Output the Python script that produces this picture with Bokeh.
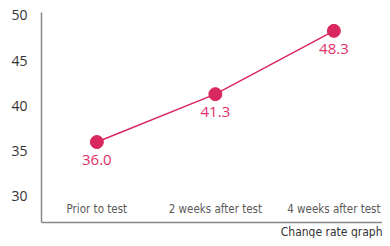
from bokeh.plotting import figure
from bokeh.models import ColumnDataSource, FixedTicker, Range1d, Title
from bokeh.core.properties import value
from bokeh.embed import file_html
from bokeh.resources import INLINE

categories = ["Prior to test", "2 weeks after test", "4 weeks after test"]
scores = [36.0, 41.3, 48.3]
y_ticks = [30, 35, 40, 45, 50]

PINK = "#d9285f"
NARROW = "'DejaVu Sans Condensed', 'Roboto', sans-serif"
xs = list(range(len(categories)))
src = ColumnDataSource(dict(x=xs, y=scores, lab=[f"{v:.1f}" for v in scores]))

y_start, y_end = 27.1, 50.33
p = figure(width=382, height=238, output_backend="svg", toolbar_location=None,
           x_range=Range1d(-0.467, 2.41), y_range=Range1d(y_start, y_end),
           min_border_left=41, min_border_right=0, min_border_top=12, min_border_bottom=0)
p.outline_line_color = None
p.grid.visible = False

p.line("x", "y", source=src, line_color=PINK, line_width=1.5)
p.scatter("x", "y", source=src, size=13, fill_color=PINK, line_color=PINK)
p.text("x", "y", text="lab", source=src, text_align="center", text_baseline="middle",
       y_offset=18, text_color="#e0306a", text_font_size="15px", text_font=value("Open Sans"))

# category labels sit just above the x axis, at the bottom of the y range
cat_src = ColumnDataSource(dict(x=xs, y=[y_start] * len(xs), cat=categories))
p.text("x", "y", text="cat", source=cat_src, text_align="center", text_baseline="bottom",
       y_offset=-7, text_color="#5a5a5a", text_font_size="11.5px",
       text_font=value(NARROW))

p.yaxis.ticker = FixedTicker(ticks=y_ticks)
p.yaxis.major_tick_line_color = None
p.yaxis.minor_tick_line_color = None
p.yaxis.axis_line_color = "#888888"
p.yaxis.axis_line_width = 1.5
p.yaxis.major_label_standoff = 8
p.yaxis.major_label_text_font = "Open Sans"
p.yaxis.major_label_text_font_size = "14px"
p.yaxis.major_label_text_color = "#333333"

p.xaxis.ticker = FixedTicker(ticks=[])
p.xaxis.major_tick_line_color = None
p.xaxis.minor_tick_line_color = None
p.xaxis.axis_line_color = "#888888"
p.xaxis.axis_line_width = 1.5
p.xaxis.major_label_text_font_size = "0px"
p.xaxis.major_label_standoff = 0
p.xaxis.major_tick_out = 0
p.xaxis.minor_tick_out = 0

p.add_layout(Title(text="Change rate graph", align="right", text_font=NARROW,
                   text_font_size="12px", text_font_style="normal", text_color="#333333",
                   offset=0, standoff=0), "below")

open("out.html", "w").write(file_html(p, INLINE))
